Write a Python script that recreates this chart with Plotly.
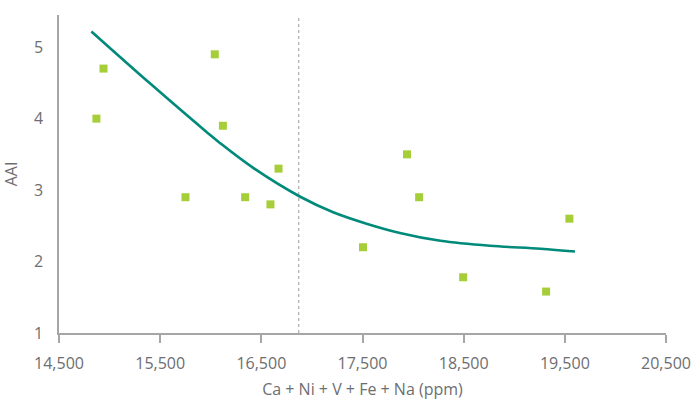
import plotly.graph_objects as go

# Scatter data (Ca + Ni + V + Fe + Na in ppm, AAI)
sample_x = [14870, 14940, 16040, 16120, 16670, 15750, 16340, 16590,
            17940, 18060, 17505, 19545, 18495, 19315]
sample_aai = [4.0, 4.7, 4.9, 3.9, 3.3, 2.9, 2.9, 2.8,
              3.5, 2.9, 2.2, 2.6, 1.78, 1.58]

# Trend line
trend_x = [14820, 15410, 15970, 16090, 16420, 16880,
           17210, 17540, 17870, 18270, 18760, 19260, 19600]
trend_aai = [5.22, 4.48, 3.80, 3.66, 3.31, 2.91,
             2.69, 2.53, 2.40, 2.29, 2.22, 2.18, 2.14]

threshold_x = 16870

x_tick_vals = [14500, 15500, 16500, 17500, 18500, 19500, 20500]
x_tick_text = ["14,500", "15,500", "16,500", "17,500", "18,500", "19,500", "20,500"]
y_tick_vals = [1, 2, 3, 4, 5]

font_family = "Open Sans, sans-serif"
grey = "#6d6e71"
axis_grey = "#a6a6a6"
tick_fs = 16
title_fs = 16

fig = go.Figure()
fig.add_trace(go.Scatter(
    x=trend_x, y=trend_aai, mode="lines",
    line=dict(color="#008a7a", width=2.6, shape="spline", smoothing=1.0),
    hoverinfo="skip", showlegend=False))
fig.add_trace(go.Scatter(
    x=sample_x, y=sample_aai, mode="markers",
    marker=dict(symbol="square", size=8, color="#a6ce39", line=dict(width=0)),
    showlegend=False))

fig.add_shape(type="line", xref="x", yref="paper", x0=threshold_x, x1=threshold_x,
              y0=0, y1=1, line=dict(color="#9a9a9a", width=1, dash="dot"), layer="below")

fig.update_layout(
    width=692, height=403,
    margin=dict(l=59, r=26, t=15, b=70, autoexpand=False),
    paper_bgcolor="white", plot_bgcolor="white",
    font=dict(family=font_family, size=tick_fs, color=grey),
    xaxis=dict(range=[14500, 20500], tickvals=x_tick_vals, ticktext=x_tick_text,
               showgrid=False, zeroline=False, showline=True, linecolor=axis_grey,
               linewidth=1.5, ticks="outside", ticklen=8, tickcolor=axis_grey,
               tickwidth=1.5, automargin=False, ticklabelstandoff=7,
               ticklabeloverflow="allow",
               tickfont=dict(size=tick_fs, color=grey),
               title=dict(text="Ca + Ni + V + Fe + Na (ppm)", standoff=11,
                          font=dict(size=title_fs, color=grey))),
    yaxis=dict(range=[1, 5.45], tickvals=y_tick_vals, showgrid=False, zeroline=False,
               showline=True, linecolor=axis_grey, linewidth=1.5, ticks="",
               ticklabelstandoff=11, automargin=False,
               tickfont=dict(size=tick_fs, color=grey),
               title=dict(text="AAI", standoff=15, font=dict(size=title_fs, color=grey))),
)

fig.write_html("out.html", post_script="document.body.style.margin='0';",
               config={"displayModeBar": False})
